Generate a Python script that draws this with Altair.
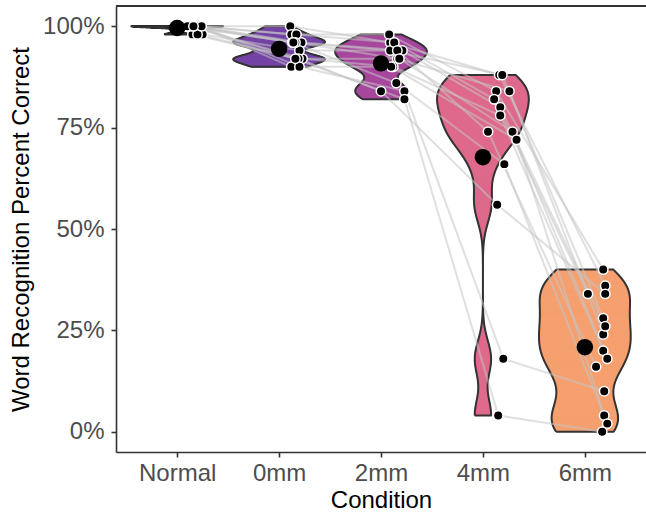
import numpy as np
import pandas as pd
import altair as alt

# ---------------- data ----------------
conditions = ["Normal", "0mm", "2mm", "4mm", "6mm"]
subjects = [f"S{i}" for i in range(1, 15)]

normal_vals = [1.00, 1.00, 1.00, 0.98, 1.00, 1.00, 1.00, 0.98, 1.00, 1.00, 1.00, 0.98, 1.00, 1.00]
mm0_vals    = [1.00, 0.98, 0.96, 0.92, 0.98, 0.96, 0.92, 0.94, 0.96, 0.90, 0.96, 0.92, 0.90, 0.92]
mm2_vals    = [0.96, 0.98, 0.94, 0.92, 0.96, 0.94, 0.90, 0.94, 0.92, 0.90, 0.86, 0.84, 0.84, 0.82]
mm4_vals    = [0.88, 0.84, 0.88, 0.84, 0.82, 0.80, 0.78, 0.74, 0.74, 0.72, 0.66, 0.56, 0.18, 0.04]
mm6_vals    = [0.36, 0.40, 0.28, 0.24, 0.34, 0.26, 0.20, 0.16, 0.18, 0.04, 0.02, 0.34, 0.10, 0.00]

# horizontal jitter of each dot (in category units)
normal_jit = [0.15, 0.24, 0.09, 0.15, 0.18, 0.20, 0.12, 0.25, 0.17, 0.21, 0.10, 0.20, 0.24, 0.16]
mm0_jit    = [0.11, 0.12, 0.13, 0.17, 0.17, 0.22, 0.23, 0.20, 0.16, 0.12, 0.14, 0.19, 0.20, 0.16]
mm2_jit    = [0.09, 0.08, 0.09, 0.16, 0.13, 0.21, 0.12, 0.16, 0.18, 0.10, 0.15, 0.00, 0.23, 0.23]
mm4_jit    = [0.16, 0.13, 0.19, 0.26, 0.11, 0.17, 0.17, 0.05, 0.29, 0.33, 0.21, 0.14, 0.20, 0.15]
mm6_jit    = [0.20, 0.18, 0.18, 0.18, 0.03, 0.20, 0.18, 0.11, 0.22, 0.19, 0.22, 0.20, 0.19, 0.17]

colors = ["#0a0a10", "#7848a8", "#a94a9f", "#de6a8b", "#f6a171"]
bw_adjust = 0.7

all_vals = [normal_vals, mm0_vals, mm2_vals, mm4_vals, mm6_vals]
all_jit = [normal_jit, mm0_jit, mm2_jit, mm4_jit, mm6_jit]

# ---------------- tables ----------------
rows = []
for ci, (cond, vals, jit) in enumerate(zip(conditions, all_vals, all_jit)):
    for s, v, j in zip(subjects, vals, jit):
        rows.append({"subject": s, "cond": cond, "pos": ci + 1, "xj": ci + 1 + j, "value": v})
points = pd.DataFrame(rows)


def nrd0(x):
    x = np.asarray(x, float)
    hi = np.std(x, ddof=1)
    iqr = np.percentile(x, 75) - np.percentile(x, 25)
    lo = min(hi, iqr / 1.34)
    if lo == 0:
        lo = hi if hi else (abs(x[0]) if x[0] else 1.0)
    return 0.9 * lo * len(x) ** (-0.2)


srows = []   # thin slices that fill each violin
orows = []   # closed outline of each violin
for ci, (cond, vals) in enumerate(zip(conditions, all_vals)):
    x = np.asarray(vals, float)
    bw = nrd0(x) * bw_adjust
    grid = np.linspace(x.min(), x.max(), 512)
    dens = np.exp(-0.5 * ((grid[:, None] - x[None, :]) / bw) ** 2).sum(1) / (len(x) * bw * np.sqrt(2 * np.pi))
    half = 0.45 * dens / dens.max()
    for i in range(len(grid) - 1):
        h = max(half[i], half[i + 1])
        srows.append({"cond": cond, "y": grid[i], "y2": grid[i + 1], "xl": ci + 1 - h, "xr": ci + 1 + h})
    k = 0
    for g, h in zip(grid, half):
        orows.append({"cond": cond, "k": k, "y": g, "x": ci + 1 - h}); k += 1
    for g, h in zip(grid[::-1], half[::-1]):
        orows.append({"cond": cond, "k": k, "y": g, "x": ci + 1 + h}); k += 1
    orows.append({"cond": cond, "k": k, "y": grid[0], "x": ci + 1 - half[0]})
slices = pd.DataFrame(srows)
outline = pd.DataFrame(orows)

# ---------------- chart ----------------
W, H = 530, 446
FONT = "Liberation Sans"

label_js = "[" + ",".join(f"'{c}'" for c in conditions) + "]"
xscale = alt.Scale(domain=[0.4, 5.6], nice=False, zero=False)
yscale = alt.Scale(domain=[-0.05, 1.05], nice=False, zero=False)
xaxis = alt.Axis(values=[1, 2, 3, 4, 5], labelExpr=f"{label_js}[datum.value-1]", grid=False,
                 title="Condition", titleY=55, titleBaseline="alphabetic", labelPadding=4)
yaxis = alt.Axis(values=[0, 0.25, 0.5, 0.75, 1.0], format=".0%", grid=False,
                 title="Word Recognition Percent Correct", titleX=-88, titleBaseline="alphabetic",
                 labelPadding=7)

fill_scale = alt.Scale(domain=conditions, range=colors)

violin_layer = alt.Chart(slices).mark_rect(strokeWidth=0.8, opacity=1).encode(
    y=alt.Y("y:Q", scale=yscale, axis=yaxis),
    y2="y2:Q",
    x=alt.X("xl:Q", scale=xscale, axis=xaxis),
    x2="xr:Q",
    fill=alt.Fill("cond:N", scale=fill_scale, legend=None),
    stroke=alt.Stroke("cond:N", scale=fill_scale, legend=None),
)

outline_layer = alt.Chart(outline).mark_line(
    color="#333333", strokeWidth=2, strokeJoin="round"
).encode(
    x=alt.X("x:Q", scale=xscale, axis=xaxis),
    y=alt.Y("y:Q", scale=yscale, axis=yaxis),
    detail="cond:N",
    order=alt.Order("k:Q"),
)

line_layer = alt.Chart(points).mark_line(color="#c4c4c4", strokeWidth=2, opacity=0.55).encode(
    x=alt.X("xj:Q", scale=xscale, axis=xaxis),
    y=alt.Y("value:Q", scale=yscale, axis=yaxis),
    detail="subject:N",
    order=alt.Order("pos:Q"),
)

point_layer = alt.Chart(points).mark_point(
    filled=True, fill="black", stroke="white", strokeWidth=1.5, size=90, opacity=1
).encode(
    x=alt.X("xj:Q", scale=xscale, axis=xaxis),
    y=alt.Y("value:Q", scale=yscale, axis=yaxis),
)

mean_layer = alt.Chart(points).mark_circle(color="black", size=270, opacity=1).encode(
    x=alt.X("mean(pos):Q", scale=xscale, axis=xaxis),
    y=alt.Y("mean(value):Q", scale=yscale, axis=yaxis),
    detail="cond:N",
)

top_border = alt.Chart(points).mark_rule(color="#333333", strokeWidth=1.6).encode(
    x=alt.value(0), x2=alt.value(W), y=alt.value(0)
)

chart = alt.layer(violin_layer, outline_layer, line_layer, point_layer, mean_layer, top_border).properties(
    width=W, height=H,
    autosize=alt.AutoSizeParams(type="none"),
    padding={"left": 116, "top": 6, "right": 0, "bottom": 62},
).configure_view(stroke=None).configure_axis(
    labelFont=FONT, titleFont=FONT, labelFontSize=24, titleFontSize=24,
    labelColor="#4d4d4d", titleColor="#000000", titleFontWeight="normal",
    domainColor="#333333", domainWidth=1.6, tickColor="#333333", tickWidth=1.6, tickSize=5,
)

chart.save("out.html", embed_options={"renderer": "svg", "actions": False})
